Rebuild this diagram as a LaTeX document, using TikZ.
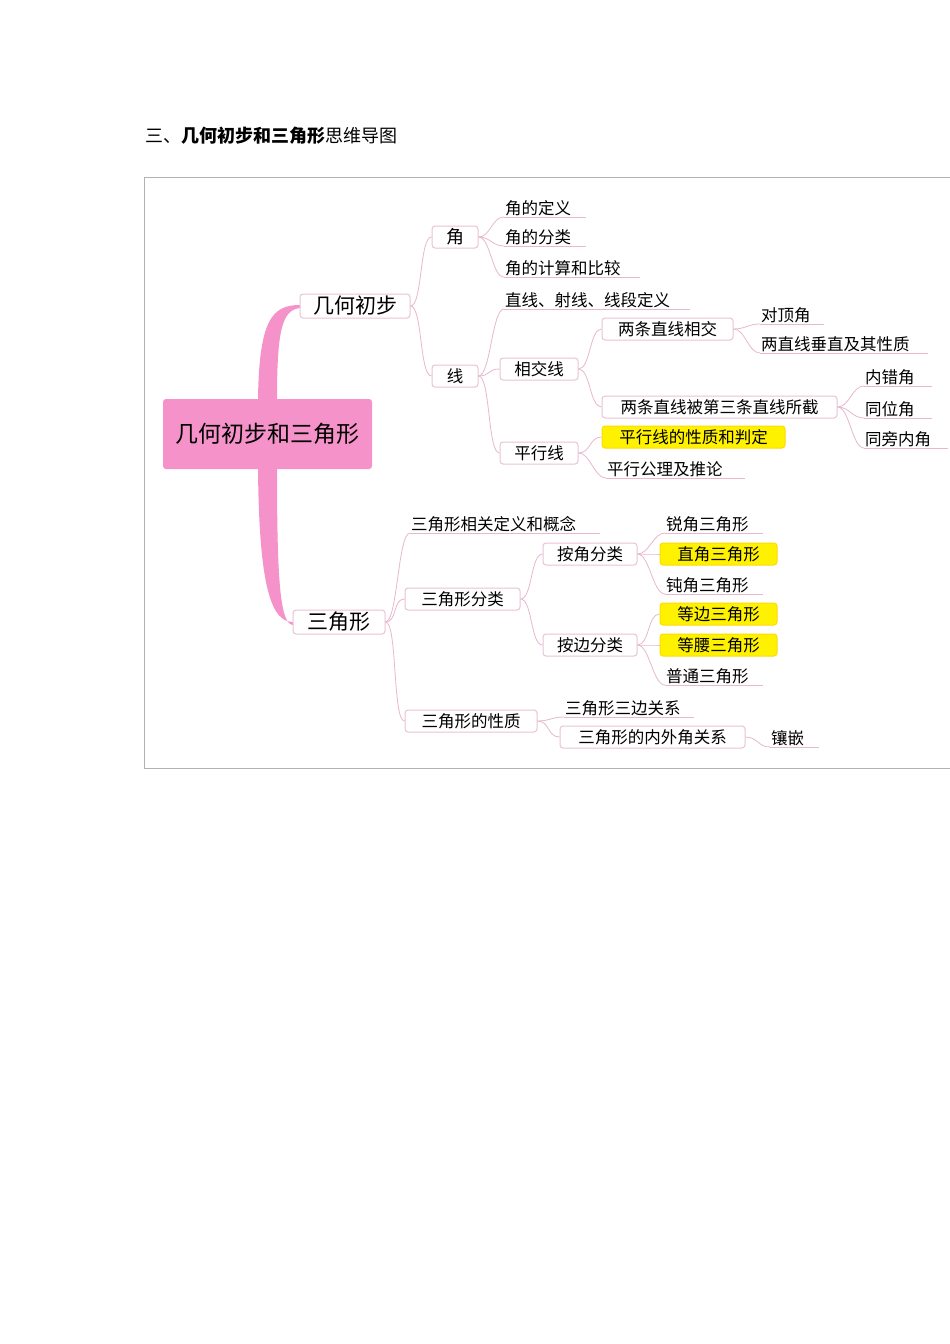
\documentclass[tikz,border=0pt]{standalone}
\usepackage{fontspec}
\setmainfont{Noto Sans CJK SC}
\begin{document}
\begin{tikzpicture}[x=1pt,y=-1pt,
  con/.style={draw=linkc,line width=0.8pt},
  box/.style={draw=boxc,line width=1pt,rounded corners=3pt,fill=white,inner sep=0pt,font=\fontsize{16.5}{17}\selectfont},
  ybox/.style={box,fill=hl,draw=hl!80!orange},
  leaf/.style={inner sep=1pt,anchor=south west,align=left,font=\fontsize{16.5}{17}\selectfont,
     append after command={\pgfextra{\draw[draw=linkc,line width=0.8pt] (\tikzlastnode.south west)--(\tikzlastnode.south east);}}},
]
\definecolor{linkc}{HTML}{E7B8CE}
\definecolor{boxc}{HTML}{E8C3D4}
\definecolor{hl}{HTML}{FFF200}
\definecolor{rootc}{HTML}{F592C9}
\useasboundingbox (0,0) rectangle (950,1344);
\fill[white] (0,0) rectangle (950,1344);
\node[anchor=west,font=\fontsize{18}{20}\selectfont] (title) at (142,136) {三、\textbf{几何初步和三角形}思维导图};
\draw[gray!60,line width=0.8pt] (951,177) -- (144,177) -- (144,768) -- (951,768);
% root stems
\fill[rootc] (258,400) .. controls (259,320) and (272,305) .. (300,305) -- (300,308) .. controls (282,310) and (277,330) .. (277,400) -- cycle;
\fill[rootc] (258,468) .. controls (259,590) and (272,622) .. (293,622) -- (293,625) .. controls (280,624) and (277,580) .. (277,468) -- cycle;
\node[fill=rootc,rounded corners=3pt,minimum width=209pt,minimum height=70pt,font=\fontsize{23}{24}\selectfont] (root) at (267.5,434) {几何初步和三角形};
% level 1
\node[box,minimum width=110pt,minimum height=24pt,font=\fontsize{21}{22}\selectfont] (jh) at (355,306) {几何初步};
\node[box,minimum width=92pt,minimum height=24pt,font=\fontsize{21}{22}\selectfont] (sj) at (339,622) {三角形};
% jihe
\node[box,minimum width=46pt,minimum height=22pt,font=\fontsize{18}{18}\selectfont] (jiao) at (455,237) {角};
\node[box,minimum width=46pt,minimum height=22pt] (xian) at (455,376) {线};
\node[leaf,text width=80pt] (j1) at (504,217) {角的定义};
\node[leaf,text width=80pt] (j2) at (504,246) {角的分类};
\node[leaf,text width=134pt] (j3) at (504,277) {角的计算和比较};
\node[leaf,text width=184pt] (x1) at (504,309) {直线、射线、线段定义};
\node[box,minimum width=78pt,minimum height=22pt] (xj) at (539,369) {相交线};
\node[box,minimum width=78pt,minimum height=22pt] (px) at (539,453) {平行线};
\node[box,minimum width=131pt,minimum height=22pt] (lt) at (667.5,329) {两条直线相交};
\node[box,minimum width=235pt,minimum height=22pt] (bj) at (719.5,407) {两条直线被第三条直线所截};
\node[ybox,minimum width=183pt,minimum height=22pt] (pxz) at (693.5,437) {平行线的性质和判定};
\node[leaf,text width=137pt] (pg) at (606,478) {平行公理及推论};
\node[leaf,text width=62pt] (dd) at (760,324) {对顶角};
\node[leaf,text width=166pt] (cz) at (760,353) {两直线垂直及其性质};
\node[leaf,text width=66pt] (nc) at (864,386) {内错角};
\node[leaf,text width=66pt] (tw) at (864,418) {同位角};
\node[leaf,text width=82pt] (tp) at (864,448) {同旁内角};
% sanjiao
\node[leaf,text width=188pt] (s1) at (410,533) {三角形相关定义和概念};
\node[box,minimum width=115pt,minimum height=22pt] (fl) at (462.5,599) {三角形分类};
\node[box,minimum width=132pt,minimum height=22pt] (xz) at (471,721) {三角形的性质};
\node[box,minimum width=94pt,minimum height=22pt] (aj) at (590,554) {按角分类};
\node[box,minimum width=94pt,minimum height=22pt] (ab) at (590,645) {按边分类};
\node[leaf,text width=96pt] (r1) at (665,533) {锐角三角形};
\node[ybox,minimum width=117pt,minimum height=22pt] (r2) at (718.5,554) {直角三角形};
\node[leaf,text width=96pt] (r3) at (665,594) {钝角三角形};
\node[ybox,minimum width=117pt,minimum height=22pt] (b1) at (718.5,614) {等边三角形};
\node[ybox,minimum width=117pt,minimum height=22pt] (b2) at (718.5,645) {等腰三角形};
\node[leaf,text width=96pt] (b3) at (665,685) {普通三角形};
\node[leaf,text width=128pt] (t1) at (564,717) {三角形三边关系};
\node[box,minimum width=185pt,minimum height=22pt] (t2) at (652.5,737) {三角形的内外角关系};
\node[leaf,text width=47pt] (t3) at (770,747) {镶嵌};
% connectors
\foreach \a/\b in {jh/jiao,jh/xian,xian/xj,xian/px,xj/lt,xj/bj,px/pxz,sj/fl,sj/xz,fl/aj,fl/ab,aj/r2,ab/b1,ab/b2,xz/t2}
  \draw[con] (\a.east) .. controls +(12,0) and +(-12,0) .. (\b.west);
\foreach \a/\b in {jiao/j1,jiao/j2,jiao/j3,xian/x1,px/pg,lt/dd,lt/cz,bj/nc,bj/tw,bj/tp,sj/s1,aj/r1,aj/r3,ab/b3,xz/t1,t2/t3}
  \draw[con] (\a.east) .. controls +(12,0) and +(-12,0) .. (\b.south west);
\end{tikzpicture}
\end{document}
